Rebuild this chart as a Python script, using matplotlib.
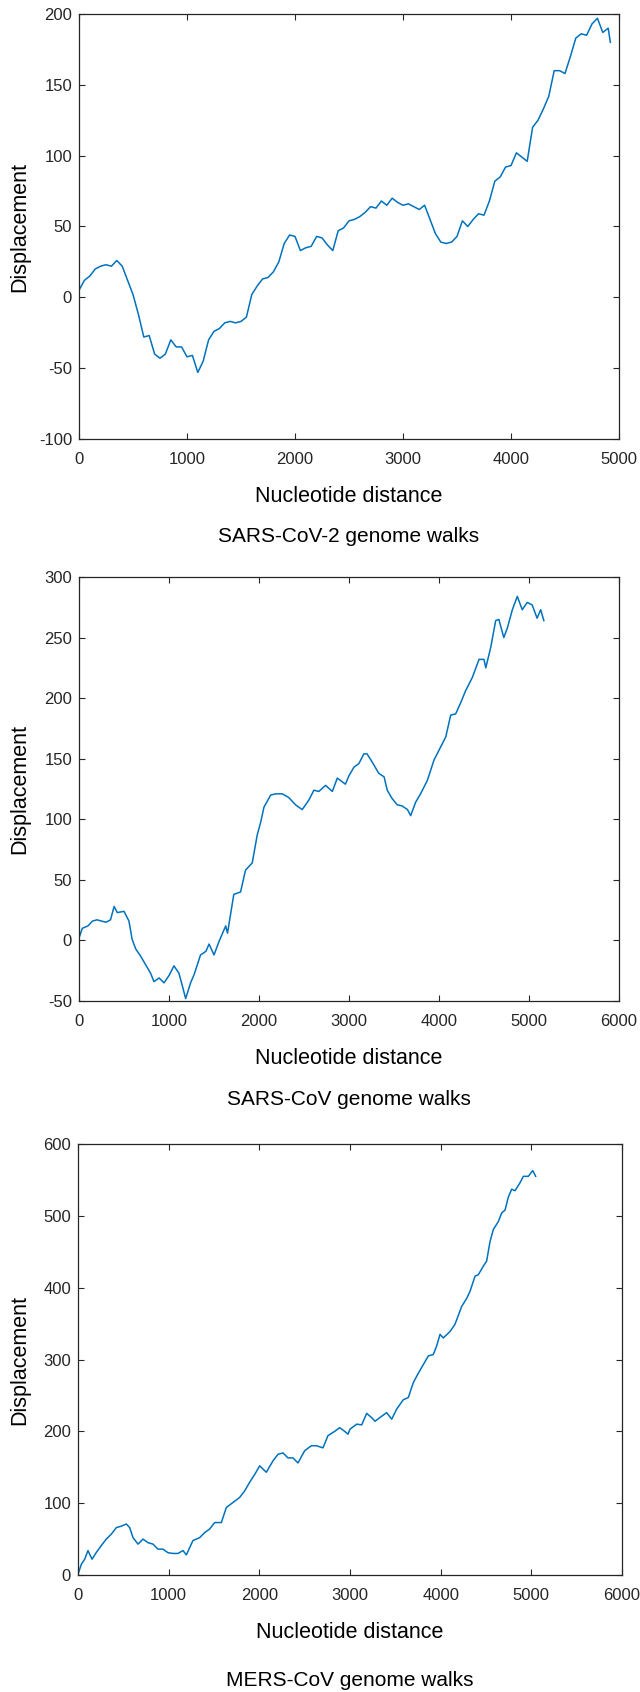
import numpy as np
import matplotlib
matplotlib.use("Agg")
from matplotlib import pyplot as plt

# values
sars2_x = [0, 50, 100, 150, 200, 250, 300, 350, 400, 450, 500, 550, 600, 650, 700, 750,
           800, 850, 900, 950, 1000, 1050, 1100, 1150, 1200, 1250, 1300, 1350, 1400, 1450,
           1500, 1550, 1600, 1650, 1700, 1750, 1800, 1850, 1900, 1950, 2000, 2050, 2100,
           2150, 2200, 2250, 2300, 2350, 2400, 2450, 2500, 2550, 2600, 2650, 2700, 2750,
           2800, 2850, 2900, 2950, 3000, 3050, 3100, 3150, 3200, 3250, 3300, 3350, 3400,
           3450, 3500, 3550, 3600, 3650, 3700, 3750, 3800, 3850, 3900, 3950, 4000, 4050,
           4100, 4150, 4200, 4250, 4300, 4350, 4400, 4450, 4500, 4550, 4600, 4650, 4700,
           4750, 4800, 4850, 4900, 4920]
sars2_y = [5, 12, 15, 20, 22, 23, 22, 26, 22, 12, 2, -12, -28, -27, -40, -43,
           -40, -30, -35, -35, -42, -41, -53, -45, -30, -24, -22, -18, -17, -18,
           -17, -14, 2, 8, 13, 14, 18, 25, 38, 44, 43, 33, 35,
           36, 43, 42, 37, 33, 47, 49, 54, 55, 57, 60, 64, 63,
           68, 65, 70, 67, 65, 66, 64, 62, 65, 55, 45, 39, 38,
           39, 43, 54, 50, 55, 59, 58, 68, 82, 85, 92, 93, 102,
           99, 96, 120, 125, 133, 142, 160, 160, 158, 170, 183, 186, 185,
           193, 197, 187, 190, 180]

sars_x = [0, 37, 100, 150, 200, 250, 300, 350, 390, 425, 500, 555, 590, 630, 685, 740,
          795, 833, 890, 945, 1000, 1055, 1110, 1150, 1185, 1240, 1280, 1350, 1410, 1445,
          1500, 1555, 1630, 1650, 1720, 1795, 1850, 1925, 1980, 2020, 2055, 2130, 2185,
          2260, 2330, 2405, 2480, 2555, 2610, 2665, 2740, 2815, 2870, 2960, 3000, 3055,
          3110, 3165, 3200, 3260, 3330, 3390, 3425, 3480, 3535, 3590, 3650, 3685, 3740,
          3795, 3870, 3945, 4000, 4075, 4130, 4185, 4240, 4295, 4370, 4445, 4500, 4520,
          4575, 4630, 4665, 4720, 4760, 4815, 4870, 4925, 4980, 5035, 5090, 5130, 5165]
sars_y = [2, 10, 12, 16, 17, 16, 15, 17, 28, 23, 24, 16, 1, -7, -13, -20,
          -27, -34, -31, -35, -29, -21, -27, -38, -48, -35, -28, -12, -9, -3,
          -12, -1, 12, 6, 38, 40, 58, 64, 87, 98, 110, 120, 121,
          121, 118, 112, 108, 116, 124, 123, 128, 123, 134, 129, 136, 143,
          146, 154, 154, 147, 138, 135, 124, 117, 112, 111, 108, 103, 114,
          121, 132, 149, 157, 168, 186, 187, 196, 206, 217, 232, 232, 225,
          242, 264, 265, 250, 258, 273, 284, 273, 279, 277, 266, 273, 264]

mers_x = [0, 37, 74, 110, 155, 200, 257, 312, 368, 423, 478, 533, 570, 607, 662, 717,
          772, 827, 882, 937, 993, 1048, 1103, 1158, 1195, 1268, 1342, 1397, 1452, 1507,
          1581, 1636, 1710, 1783, 1838, 1893, 1949, 2004, 2077, 2151, 2206, 2261, 2316,
          2371, 2426, 2500, 2574, 2629, 2702, 2757, 2831, 2886, 2941, 2978, 3000, 3074,
          3129, 3184, 3239, 3276, 3349, 3404, 3460, 3515, 3588, 3643, 3699, 3754, 3809,
          3864, 3919, 3956, 3993, 4029, 4103, 4158, 4232, 4287, 4324, 4379, 4415, 4471,
          4507, 4544, 4581, 4636, 4673, 4710, 4746, 4783, 4820, 4875, 4912, 4967, 5015,
          5048]
mers_y = [1, 15, 22, 34, 22, 31, 41, 50, 57, 66, 68, 71, 66, 52, 43, 50,
          45, 43, 36, 36, 31, 30, 30, 34, 28, 48, 52, 59, 64, 73,
          73, 94, 101, 108, 117, 129, 140, 152, 143, 159, 168, 170, 163,
          163, 156, 173, 180, 180, 177, 194, 200, 205, 200, 196, 203, 210,
          209, 225, 219, 214, 221, 226, 217, 231, 244, 247, 268, 281, 293,
          305, 307, 319, 335, 330, 339, 349, 374, 385, 395, 416, 418, 430,
          437, 464, 481, 492, 504, 508, 526, 537, 535, 546, 555, 555, 563,
          555]

panels = [
    (sars2_x, sars2_y, (0, 5000), (-100, 200), 50, "SARS-CoV-2 genome walks"),
    (sars_x, sars_y, (0, 6000), (-50, 300), 50, "SARS-CoV genome walks"),
    (mers_x, mers_y, (0, 6000), (0, 600), 100, "MERS-CoV genome walks"),
]

# axes boxes in pixels: left, top, right, bottom; title centre y
boxes = [(79, 14, 619, 439, 537), (79, 577, 619, 1001, 1099), (78, 1144, 622, 1575, 1680)]

W, H = 640, 1692
plt.rcParams['font.family'] = ['Liberation Sans', 'DejaVu Sans']
plt.rcParams['axes.unicode_minus'] = False
fig = plt.figure(figsize=(W / 100, H / 100), dpi=100)

dark = '#262626'
for (x, y, xl, yl, ystep, title), (l, t, r, b, ty) in zip(panels, boxes):
    ax = fig.add_axes([l / W, 1 - b / H, (r - l) / W, (b - t) / H])
    ax.plot(x, y, color='#0072BD', lw=1.1)
    ax.set_xlim(*xl)
    ax.set_ylim(*yl)
    ax.set_xticks(np.arange(xl[0], xl[1] + 1, 1000))
    ax.set_yticks(np.arange(yl[0], yl[1] + 1, ystep))
    ax.tick_params(direction='in', top=True, right=True, length=4, width=0.8,
                   colors=dark, labelsize=12, pad=5)
    ax.tick_params(axis='x', pad=9)
    for s in ax.spines.values():
        s.set_color(dark)
        s.set_linewidth(0.9)
    ax.set_xlabel('Nucleotide distance', fontsize=15.5, color='black', labelpad=14)
    ax.set_ylabel('Displacement', fontsize=15.5, color='black')
    ax.yaxis.set_label_coords((30 - l) / (r - l), 0.5)
    fig.text(0.5 * (l + r) / W, 1 - ty / H, title, ha='center', va='center',
             fontsize=15, color='black')

fig.savefig('out.png', dpi=100)
